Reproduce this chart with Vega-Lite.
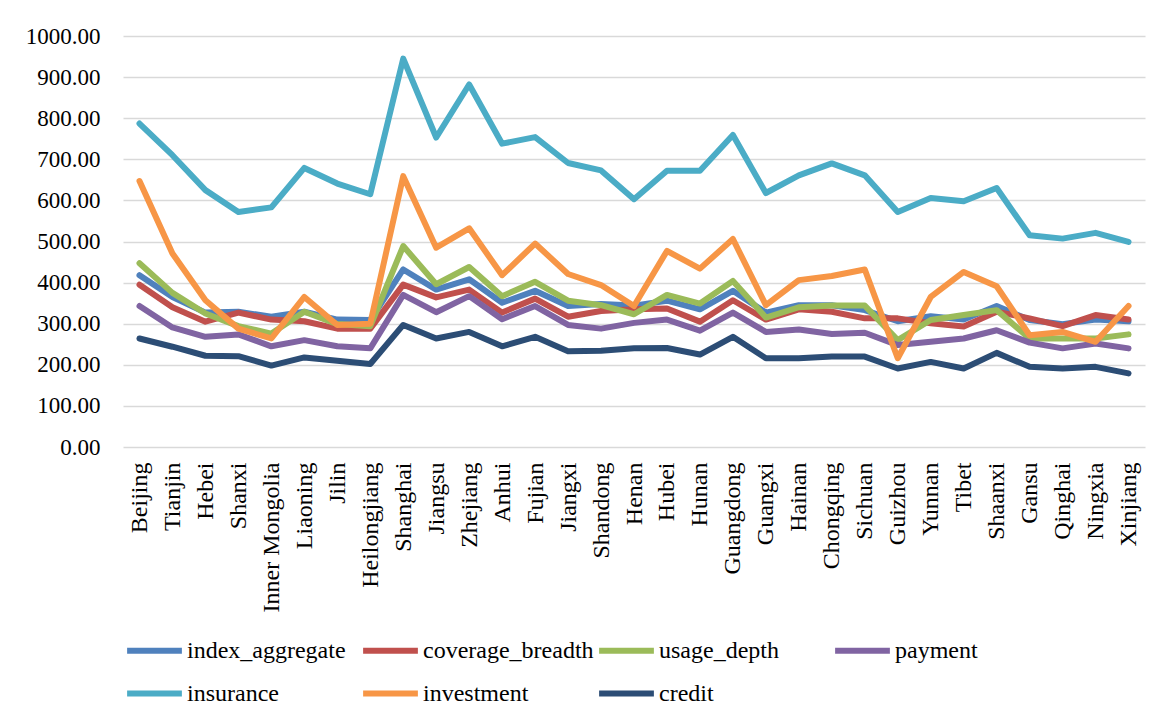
{
  "$schema": "https://vega.github.io/schema/vega-lite/v6.json",
  "autosize": {"type": "none"},
  "width": 1022,
  "height": 411,
  "padding": {"left": 123, "top": 36, "right": 24, "bottom": 275},
  "background": "white",
  "config": {
    "view": {"stroke": null},
    "font": "Liberation Serif"
  },
  "data": {
    "values": [
      {"p":"Beijing","s":"index_aggregate","v":418},{"p":"Tianjin","s":"index_aggregate","v":365},{"p":"Hebei","s":"index_aggregate","v":327},{"p":"Shanxi","s":"index_aggregate","v":329},{"p":"Inner Mongolia","s":"index_aggregate","v":317},{"p":"Liaoning","s":"index_aggregate","v":329},{"p":"Jilin","s":"index_aggregate","v":310},{"p":"Heilongjiang","s":"index_aggregate","v":309},{"p":"Shanghai","s":"index_aggregate","v":432},{"p":"Jiangsu","s":"index_aggregate","v":383},{"p":"Zhejiang","s":"index_aggregate","v":408},{"p":"Anhui","s":"index_aggregate","v":351},{"p":"Fujian","s":"index_aggregate","v":380},{"p":"Jiangxi","s":"index_aggregate","v":343},{"p":"Shandong","s":"index_aggregate","v":348},{"p":"Henan","s":"index_aggregate","v":344},{"p":"Hubei","s":"index_aggregate","v":356},{"p":"Hunan","s":"index_aggregate","v":335},{"p":"Guangdong","s":"index_aggregate","v":380},{"p":"Guangxi","s":"index_aggregate","v":327},{"p":"Hainan","s":"index_aggregate","v":345},{"p":"Chongqing","s":"index_aggregate","v":345},{"p":"Sichuan","s":"index_aggregate","v":333},{"p":"Guizhou","s":"index_aggregate","v":306},{"p":"Yunnan","s":"index_aggregate","v":318},{"p":"Tibet","s":"index_aggregate","v":310},{"p":"Shaanxi","s":"index_aggregate","v":343},{"p":"Gansu","s":"index_aggregate","v":309},{"p":"Qinghai","s":"index_aggregate","v":299},{"p":"Ningxia","s":"index_aggregate","v":310},{"p":"Xinjiang","s":"index_aggregate","v":306},
      {"p":"Beijing","s":"coverage_breadth","v":395},{"p":"Tianjin","s":"coverage_breadth","v":340},{"p":"Hebei","s":"coverage_breadth","v":305},{"p":"Shanxi","s":"coverage_breadth","v":327},{"p":"Inner Mongolia","s":"coverage_breadth","v":310},{"p":"Liaoning","s":"coverage_breadth","v":306},{"p":"Jilin","s":"coverage_breadth","v":288},{"p":"Heilongjiang","s":"coverage_breadth","v":288},{"p":"Shanghai","s":"coverage_breadth","v":395},{"p":"Jiangsu","s":"coverage_breadth","v":364},{"p":"Zhejiang","s":"coverage_breadth","v":383},{"p":"Anhui","s":"coverage_breadth","v":327},{"p":"Fujian","s":"coverage_breadth","v":361},{"p":"Jiangxi","s":"coverage_breadth","v":317},{"p":"Shandong","s":"coverage_breadth","v":331},{"p":"Henan","s":"coverage_breadth","v":335},{"p":"Hubei","s":"coverage_breadth","v":337},{"p":"Hunan","s":"coverage_breadth","v":305},{"p":"Guangdong","s":"coverage_breadth","v":357},{"p":"Guangxi","s":"coverage_breadth","v":310},{"p":"Hainan","s":"coverage_breadth","v":335},{"p":"Chongqing","s":"coverage_breadth","v":329},{"p":"Sichuan","s":"coverage_breadth","v":313},{"p":"Guizhou","s":"coverage_breadth","v":313},{"p":"Yunnan","s":"coverage_breadth","v":301},{"p":"Tibet","s":"coverage_breadth","v":293},{"p":"Shaanxi","s":"coverage_breadth","v":329},{"p":"Gansu","s":"coverage_breadth","v":313},{"p":"Qinghai","s":"coverage_breadth","v":294},{"p":"Ningxia","s":"coverage_breadth","v":321},{"p":"Xinjiang","s":"coverage_breadth","v":310},
      {"p":"Beijing","s":"usage_depth","v":447},{"p":"Tianjin","s":"usage_depth","v":375},{"p":"Hebei","s":"usage_depth","v":325},{"p":"Shanxi","s":"usage_depth","v":294},{"p":"Inner Mongolia","s":"usage_depth","v":276},{"p":"Liaoning","s":"usage_depth","v":329},{"p":"Jilin","s":"usage_depth","v":299},{"p":"Heilongjiang","s":"usage_depth","v":294},{"p":"Shanghai","s":"usage_depth","v":489},{"p":"Jiangsu","s":"usage_depth","v":396},{"p":"Zhejiang","s":"usage_depth","v":438},{"p":"Anhui","s":"usage_depth","v":367},{"p":"Fujian","s":"usage_depth","v":402},{"p":"Jiangxi","s":"usage_depth","v":356},{"p":"Shandong","s":"usage_depth","v":345},{"p":"Henan","s":"usage_depth","v":323},{"p":"Hubei","s":"usage_depth","v":370},{"p":"Hunan","s":"usage_depth","v":349},{"p":"Guangdong","s":"usage_depth","v":404},{"p":"Guangxi","s":"usage_depth","v":315},{"p":"Hainan","s":"usage_depth","v":340},{"p":"Chongqing","s":"usage_depth","v":344},{"p":"Sichuan","s":"usage_depth","v":344},{"p":"Guizhou","s":"usage_depth","v":260},{"p":"Yunnan","s":"usage_depth","v":309},{"p":"Tibet","s":"usage_depth","v":321},{"p":"Shaanxi","s":"usage_depth","v":333},{"p":"Gansu","s":"usage_depth","v":264},{"p":"Qinghai","s":"usage_depth","v":264},{"p":"Ningxia","s":"usage_depth","v":264},{"p":"Xinjiang","s":"usage_depth","v":274},
      {"p":"Beijing","s":"payment","v":343},{"p":"Tianjin","s":"payment","v":291},{"p":"Hebei","s":"payment","v":268},{"p":"Shanxi","s":"payment","v":274},{"p":"Inner Mongolia","s":"payment","v":245},{"p":"Liaoning","s":"payment","v":260},{"p":"Jilin","s":"payment","v":245},{"p":"Heilongjiang","s":"payment","v":240},{"p":"Shanghai","s":"payment","v":370},{"p":"Jiangsu","s":"payment","v":328},{"p":"Zhejiang","s":"payment","v":367},{"p":"Anhui","s":"payment","v":311},{"p":"Fujian","s":"payment","v":343},{"p":"Jiangxi","s":"payment","v":297},{"p":"Shandong","s":"payment","v":288},{"p":"Henan","s":"payment","v":302},{"p":"Hubei","s":"payment","v":310},{"p":"Hunan","s":"payment","v":283},{"p":"Guangdong","s":"payment","v":327},{"p":"Guangxi","s":"payment","v":280},{"p":"Hainan","s":"payment","v":286},{"p":"Chongqing","s":"payment","v":275},{"p":"Sichuan","s":"payment","v":278},{"p":"Guizhou","s":"payment","v":248},{"p":"Yunnan","s":"payment","v":256},{"p":"Tibet","s":"payment","v":264},{"p":"Shaanxi","s":"payment","v":284},{"p":"Gansu","s":"payment","v":254},{"p":"Qinghai","s":"payment","v":240},{"p":"Ningxia","s":"payment","v":252},{"p":"Xinjiang","s":"payment","v":240},
      {"p":"Beijing","s":"insurance","v":787},{"p":"Tianjin","s":"insurance","v":710},{"p":"Hebei","s":"insurance","v":625},{"p":"Shanxi","s":"insurance","v":572},{"p":"Inner Mongolia","s":"insurance","v":583},{"p":"Liaoning","s":"insurance","v":679},{"p":"Jilin","s":"insurance","v":641},{"p":"Heilongjiang","s":"insurance","v":615},{"p":"Shanghai","s":"insurance","v":945},{"p":"Jiangsu","s":"insurance","v":753},{"p":"Zhejiang","s":"insurance","v":882},{"p":"Anhui","s":"insurance","v":738},{"p":"Fujian","s":"insurance","v":754},{"p":"Jiangxi","s":"insurance","v":691},{"p":"Shandong","s":"insurance","v":673},{"p":"Henan","s":"insurance","v":603},{"p":"Hubei","s":"insurance","v":672},{"p":"Hunan","s":"insurance","v":672},{"p":"Guangdong","s":"insurance","v":759},{"p":"Guangxi","s":"insurance","v":618},{"p":"Hainan","s":"insurance","v":661},{"p":"Chongqing","s":"insurance","v":690},{"p":"Sichuan","s":"insurance","v":661},{"p":"Guizhou","s":"insurance","v":572},{"p":"Yunnan","s":"insurance","v":606},{"p":"Tibet","s":"insurance","v":598},{"p":"Shaanxi","s":"insurance","v":630},{"p":"Gansu","s":"insurance","v":515},{"p":"Qinghai","s":"insurance","v":507},{"p":"Ningxia","s":"insurance","v":521},{"p":"Xinjiang","s":"insurance","v":499},
      {"p":"Beijing","s":"investment","v":647},{"p":"Tianjin","s":"investment","v":471},{"p":"Hebei","s":"investment","v":357},{"p":"Shanxi","s":"investment","v":288},{"p":"Inner Mongolia","s":"investment","v":264},{"p":"Liaoning","s":"investment","v":365},{"p":"Jilin","s":"investment","v":297},{"p":"Heilongjiang","s":"investment","v":300},{"p":"Shanghai","s":"investment","v":659},{"p":"Jiangsu","s":"investment","v":485},{"p":"Zhejiang","s":"investment","v":532},{"p":"Anhui","s":"investment","v":418},{"p":"Fujian","s":"investment","v":495},{"p":"Jiangxi","s":"investment","v":421},{"p":"Shandong","s":"investment","v":394},{"p":"Henan","s":"investment","v":343},{"p":"Hubei","s":"investment","v":477},{"p":"Hunan","s":"investment","v":434},{"p":"Guangdong","s":"investment","v":506},{"p":"Guangxi","s":"investment","v":345},{"p":"Hainan","s":"investment","v":406},{"p":"Chongqing","s":"investment","v":416},{"p":"Sichuan","s":"investment","v":432},{"p":"Guizhou","s":"investment","v":216},{"p":"Yunnan","s":"investment","v":365},{"p":"Tibet","s":"investment","v":426},{"p":"Shaanxi","s":"investment","v":391},{"p":"Gansu","s":"investment","v":272},{"p":"Qinghai","s":"investment","v":280},{"p":"Ningxia","s":"investment","v":256},{"p":"Xinjiang","s":"investment","v":343},
      {"p":"Beijing","s":"credit","v":264},{"p":"Tianjin","s":"credit","v":244},{"p":"Hebei","s":"credit","v":222},{"p":"Shanxi","s":"credit","v":221},{"p":"Inner Mongolia","s":"credit","v":198},{"p":"Liaoning","s":"credit","v":218},{"p":"Jilin","s":"credit","v":210},{"p":"Heilongjiang","s":"credit","v":202},{"p":"Shanghai","s":"credit","v":297},{"p":"Jiangsu","s":"credit","v":264},{"p":"Zhejiang","s":"credit","v":280},{"p":"Anhui","s":"credit","v":245},{"p":"Fujian","s":"credit","v":268},{"p":"Jiangxi","s":"credit","v":233},{"p":"Shandong","s":"credit","v":234},{"p":"Henan","s":"credit","v":240},{"p":"Hubei","s":"credit","v":241},{"p":"Hunan","s":"credit","v":225},{"p":"Guangdong","s":"credit","v":268},{"p":"Guangxi","s":"credit","v":216},{"p":"Hainan","s":"credit","v":216},{"p":"Chongqing","s":"credit","v":220},{"p":"Sichuan","s":"credit","v":220},{"p":"Guizhou","s":"credit","v":191},{"p":"Yunnan","s":"credit","v":207},{"p":"Tibet","s":"credit","v":191},{"p":"Shaanxi","s":"credit","v":229},{"p":"Gansu","s":"credit","v":195},{"p":"Qinghai","s":"credit","v":191},{"p":"Ningxia","s":"credit","v":195},{"p":"Xinjiang","s":"credit","v":179}
    ]
  },
  "mark": {"type": "line", "strokeWidth": 6, "strokeCap": "round", "strokeJoin": "round"},
  "encoding": {
    "x": {
      "field": "p", "type": "nominal", "sort": null,
      "scale": {"type": "point", "padding": 0.5},
      "axis": {"title": null, "labelAngle": -90, "labelFont": "Liberation Serif", "labelFontSize": 24, "labelColor": "#000", "domain": false, "ticks": false, "tickSize": 0, "labelPadding": 15, "grid": false, "labelLimit": 300}
    },
    "y": {
      "field": "v", "type": "quantitative",
      "scale": {"domain": [0, 1000], "nice": false},
      "axis": {"title": null, "values": [0,100,200,300,400,500,600,700,800,900,1000], "format": ".2f", "labelFont": "Liberation Serif", "labelFontSize": 23, "labelColor": "#000", "domain": false, "ticks": false, "tickSize": 0, "labelPadding": 23, "grid": true, "gridColor": "#d9d9d9", "gridWidth": 1.3}
    },
    "color": {
      "field": "s", "type": "nominal",
      "scale": {
        "domain": ["index_aggregate","coverage_breadth","usage_depth","payment","insurance","investment","credit"],
        "range": ["#4F81BD","#C0504D","#9BBB59","#8064A2","#4BACC6","#F79646","#2C4D75"]
      },
      "legend": {"title": null, "orient": "none", "legendX": 1, "legendY": 584, "direction": "horizontal", "columns": 4, "gridAlign": "all", "columnPadding": -7, "rowPadding": 0, "symbolType": "stroke", "symbolSize": 3000, "symbolStrokeWidth": 6, "labelFont": "Liberation Serif", "labelFontSize": 24, "labelColor": "#000", "labelLimit": 400, "labelOffset": 2}
    }
  }
}
